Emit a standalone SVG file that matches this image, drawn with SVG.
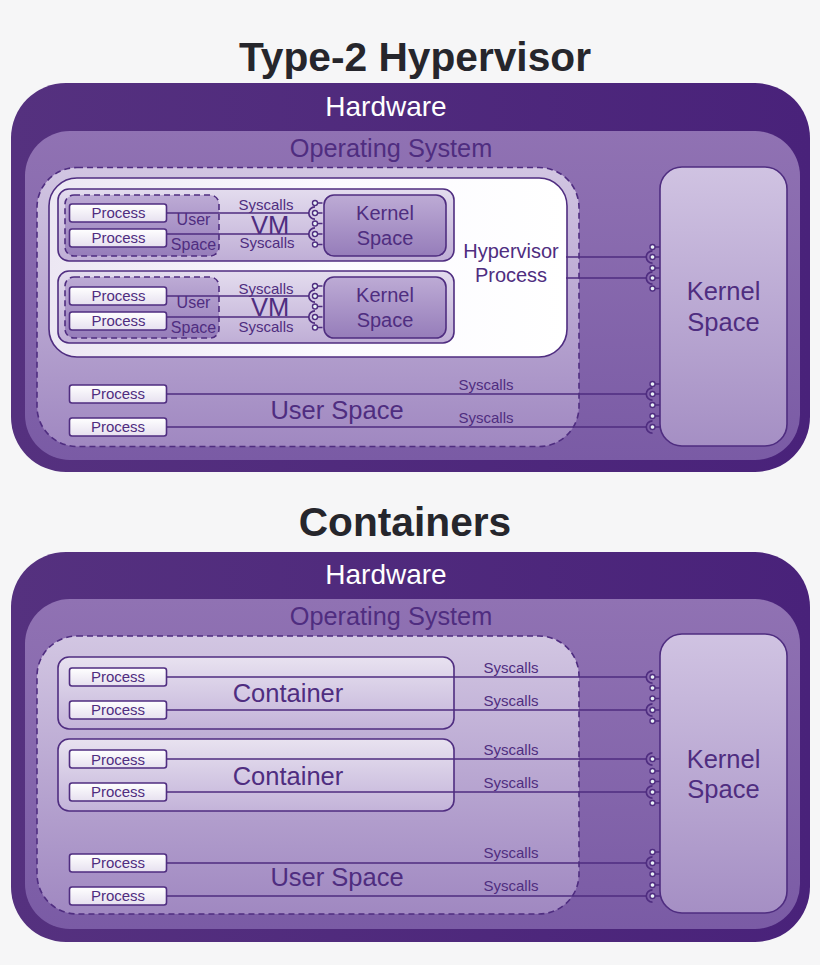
<svg xmlns="http://www.w3.org/2000/svg" xmlns:xlink="http://www.w3.org/1999/xlink" width="820" height="965" viewBox="0 0 820 965">
<style>
text{font-family:"Liberation Sans",Arial,sans-serif;fill:#4f2d80;text-anchor:middle}
.title{font-size:40.7px;font-weight:bold;fill:#26262c}
.hw{font-size:28px;fill:#fff}
.os{font-size:25.3px}
.big{font-size:25.5px}
.mid{font-size:20px}
.sm{font-size:15px}
.us{font-size:16px}
.proc rect{fill:url(#gProc);stroke:#4f2d80;stroke-width:1.6}
.e{stroke:#4f2d80;fill:none}
.b{stroke:#4f2d80;stroke-width:1.6;fill:none}
.box{stroke:#4f2d80;stroke-width:1.6}
.dash{stroke:#4f2d80;stroke-width:1.6;stroke-dasharray:6 4}
</style>
<defs>
<linearGradient id="gHw" x1="0" y1="0" x2="1" y2="0"><stop offset="0" stop-color="#55317f"/><stop offset="1" stop-color="#49227a"/></linearGradient>
<linearGradient id="gOs" x1="0" y1="0" x2="0" y2="1"><stop offset="0" stop-color="#9072b3"/><stop offset="1" stop-color="#7a5ba5"/></linearGradient>
<linearGradient id="gUser" x1="0" y1="0" x2="0" y2="1"><stop offset="0" stop-color="#d2c6e2"/><stop offset="1" stop-color="#a088c1"/></linearGradient>
<linearGradient id="gHyp" x1="0" y1="0" x2="1" y2="0"><stop offset="0" stop-color="#ece7f3"/><stop offset="0.55" stop-color="#fbfaff"/><stop offset="1" stop-color="#ffffff"/></linearGradient>
<linearGradient id="gKern" x1="0" y1="0" x2="0" y2="1"><stop offset="0" stop-color="#d0c3e2"/><stop offset="1" stop-color="#a58fc4"/></linearGradient>
<linearGradient id="gVm" x1="0" y1="0" x2="0" y2="1"><stop offset="0" stop-color="#e3dcee"/><stop offset="1" stop-color="#bfaed6"/></linearGradient>
<linearGradient id="gCont" x1="0" y1="0" x2="0" y2="1"><stop offset="0" stop-color="#e8e2f0"/><stop offset="1" stop-color="#c3b3d9"/></linearGradient>
<linearGradient id="gInner" x1="0" y1="0" x2="0" y2="1"><stop offset="0" stop-color="#bdabd5"/><stop offset="1" stop-color="#967dba"/></linearGradient>
<linearGradient id="gProc" x1="0" y1="0" x2="0" y2="1"><stop offset="0" stop-color="#ffffff"/><stop offset="1" stop-color="#e6e0ef"/></linearGradient>
<g id="ball"><path class="e" stroke-width="1.5" d="M0 0H7.500"/><circle r="2.500" fill="#e8f2f6" stroke="#4f2d80" stroke-width="1.4"/></g>
<g id="cup"><path class="e" stroke-width="1.7" d="M0 -6.200A6.200 6.200 0 0 0 0 6.200"/><use xlink:href="#ball"/></g>
</defs>
<rect width="820" height="965" fill="#f6f6f7"/>
<text class="title" x="415" y="71">Type-2 Hypervisor</text>
<g id="hardware1"><rect x="11" y="83" width="799" height="389" rx="55" fill="url(#gHw)"/><text class="hw" x="386" y="116">Hardware</text></g>
<g id="os1"><rect x="25" y="131" width="775" height="329" rx="45" fill="url(#gOs)"/><text class="os" x="391" y="157">Operating System</text></g>
<g id="userspace1"><rect class="dash" x="37" y="167.500" width="542" height="279" rx="40" fill="url(#gUser)"/><text class="big" x="337" y="418.500">User Space</text></g>
<g id="hypervisor"><rect class="box" x="49" y="178" width="518" height="179" rx="28" fill="url(#gHyp)"/><text class="mid" x="511" y="258">Hypervisor</text><text class="mid" x="511" y="282">Process</text></g>
<g id="kernel1"><rect class="box" x="660" y="167" width="127" height="279" rx="22" fill="url(#gKern)"/><text class="big" x="723.500" y="300">Kernel</text><text class="big" x="723.500" y="331">Space</text></g>

<g id="vm1"><rect class="box" x="58" y="189" width="396" height="72" rx="11" fill="url(#gVm)"/><text class="big" x="270" y="234">VM</text></g>
<g id="vm1user"><rect class="dash" x="65" y="195" width="154" height="61" rx="9" fill="url(#gInner)"/><text class="us" x="193.500" y="225">User</text><text class="us" x="193.500" y="250">Space</text></g>
<g id="vm1kernel"><rect class="box" x="324" y="195" width="122" height="61" rx="10" fill="url(#gInner)"/><text class="mid" x="385" y="220">Kernel</text><text class="mid" x="385" y="245">Space</text></g>
<g id="vm2"><rect class="box" x="58" y="271" width="396" height="72" rx="11" fill="url(#gVm)"/><text class="big" x="270" y="316">VM</text></g>
<g id="vm2user"><rect class="dash" x="65" y="277" width="154" height="61" rx="9" fill="url(#gInner)"/><text class="us" x="193.500" y="308">User</text><text class="us" x="193.500" y="333">Space</text></g>
<g id="vm2kernel"><rect class="box" x="324" y="277" width="122" height="61" rx="10" fill="url(#gInner)"/><text class="mid" x="385" y="302">Kernel</text><text class="mid" x="385" y="327">Space</text></g>

<g id="hardware2"><rect x="11" y="552" width="799" height="390" rx="55" fill="url(#gHw)"/><text class="hw" x="386" y="584">Hardware</text></g>
<g id="os2"><rect x="25" y="599" width="775" height="330" rx="45" fill="url(#gOs)"/><text class="os" x="391" y="625">Operating System</text></g>
<g id="userspace2"><rect class="dash" x="37" y="636" width="542" height="278" rx="40" fill="url(#gUser)"/><text class="big" x="337" y="886">User Space</text></g>
<g id="kernel2"><rect class="box" x="660" y="634" width="127" height="279" rx="22" fill="url(#gKern)"/><text class="big" x="723.500" y="768">Kernel</text><text class="big" x="723.500" y="798">Space</text></g>
<g id="container1"><rect class="box" x="58" y="657" width="396" height="72" rx="11" fill="url(#gCont)"/><text class="big" x="288" y="702">Container</text></g>
<g id="container2"><rect class="box" x="58" y="739" width="396" height="72" rx="11" fill="url(#gCont)"/><text class="big" x="288" y="785">Container</text></g>
<text class="title" x="405" y="536">Containers</text>

<g id="connectors">
<path class="b" d="M166 213H309M166 234H309M166 296H309M166 317H309M566 257H646M566 278H646M166 394H646M166 427H646"/>
<path class="b" d="M166 677H646M166 710H646M166 759H646M166 792H646M166 863H646M166 896H646"/>
<g transform="translate(315 0)"><use xlink:href="#ball" y="203"/><use xlink:href="#cup" y="213"/><use xlink:href="#ball" y="223.500"/><use xlink:href="#cup" y="234"/><use xlink:href="#ball" y="244.500"/>
<use xlink:href="#ball" y="286"/><use xlink:href="#cup" y="296"/><use xlink:href="#ball" y="306.500"/><use xlink:href="#cup" y="317"/><use xlink:href="#ball" y="327.500"/></g>
<g transform="translate(652.500 0)"><use xlink:href="#ball" y="247"/><use xlink:href="#cup" y="257"/><use xlink:href="#ball" y="268"/><use xlink:href="#cup" y="278"/><use xlink:href="#ball" y="288.500"/>
<use xlink:href="#ball" y="384"/><use xlink:href="#cup" y="394"/><use xlink:href="#ball" y="405"/><use xlink:href="#ball" y="416"/><use xlink:href="#cup" y="427"/>
<use xlink:href="#cup" y="677"/><use xlink:href="#ball" y="688"/><use xlink:href="#ball" y="698.500"/><use xlink:href="#cup" y="710"/><use xlink:href="#ball" y="721"/>
<use xlink:href="#cup" y="759"/><use xlink:href="#ball" y="771"/><use xlink:href="#ball" y="781.500"/><use xlink:href="#cup" y="792"/><use xlink:href="#ball" y="803"/>
<use xlink:href="#ball" y="852"/><use xlink:href="#cup" y="863"/><use xlink:href="#ball" y="874"/><use xlink:href="#ball" y="885"/><use xlink:href="#cup" y="896"/></g>
</g>

<g id="p1" class="proc"><rect x="69.500" y="204" width="97" height="18" rx="2.500"/><text class="sm" x="118.500" y="218">Process</text></g>
<g id="p2" class="proc"><rect x="69.500" y="229" width="97" height="18" rx="2.500"/><text class="sm" x="118.500" y="243">Process</text></g>
<g id="p3" class="proc"><rect x="69.500" y="287" width="97" height="18" rx="2.500"/><text class="sm" x="118.500" y="301">Process</text></g>
<g id="p4" class="proc"><rect x="69.500" y="312" width="97" height="18" rx="2.500"/><text class="sm" x="118.500" y="326">Process</text></g>
<g id="p5" class="proc"><rect x="69.500" y="385" width="97" height="18" rx="2.500"/><text class="sm" x="118" y="399">Process</text></g>
<g id="p6" class="proc"><rect x="69.500" y="418" width="97" height="18" rx="2.500"/><text class="sm" x="118" y="432">Process</text></g>
<g id="p7" class="proc"><rect x="69.500" y="668" width="97" height="18" rx="2.500"/><text class="sm" x="118" y="682">Process</text></g>
<g id="p8" class="proc"><rect x="69.500" y="701" width="97" height="18" rx="2.500"/><text class="sm" x="118" y="715">Process</text></g>
<g id="p9" class="proc"><rect x="69.500" y="750" width="97" height="18" rx="2.500"/><text class="sm" x="118" y="765">Process</text></g>
<g id="p10" class="proc"><rect x="69.500" y="783" width="97" height="18" rx="2.500"/><text class="sm" x="118" y="797">Process</text></g>
<g id="p11" class="proc"><rect x="69.500" y="854" width="97" height="18" rx="2.500"/><text class="sm" x="118" y="868">Process</text></g>
<g id="p12" class="proc"><rect x="69.500" y="887" width="97" height="18" rx="2.500"/><text class="sm" x="118" y="901">Process</text></g>

<g id="labels">
<text class="sm" x="266" y="210">Syscalls</text><text class="sm" x="267" y="248">Syscalls</text>
<text class="sm" x="266" y="294">Syscalls</text><text class="sm" x="266" y="332">Syscalls</text>
<text class="sm" x="486" y="390">Syscalls</text><text class="sm" x="486" y="423">Syscalls</text>
<text class="sm" x="511" y="673">Syscalls</text><text class="sm" x="511" y="706">Syscalls</text>
<text class="sm" x="511" y="755">Syscalls</text><text class="sm" x="511" y="788">Syscalls</text>
<text class="sm" x="511" y="858">Syscalls</text><text class="sm" x="511" y="891">Syscalls</text>
</g>
</svg>
